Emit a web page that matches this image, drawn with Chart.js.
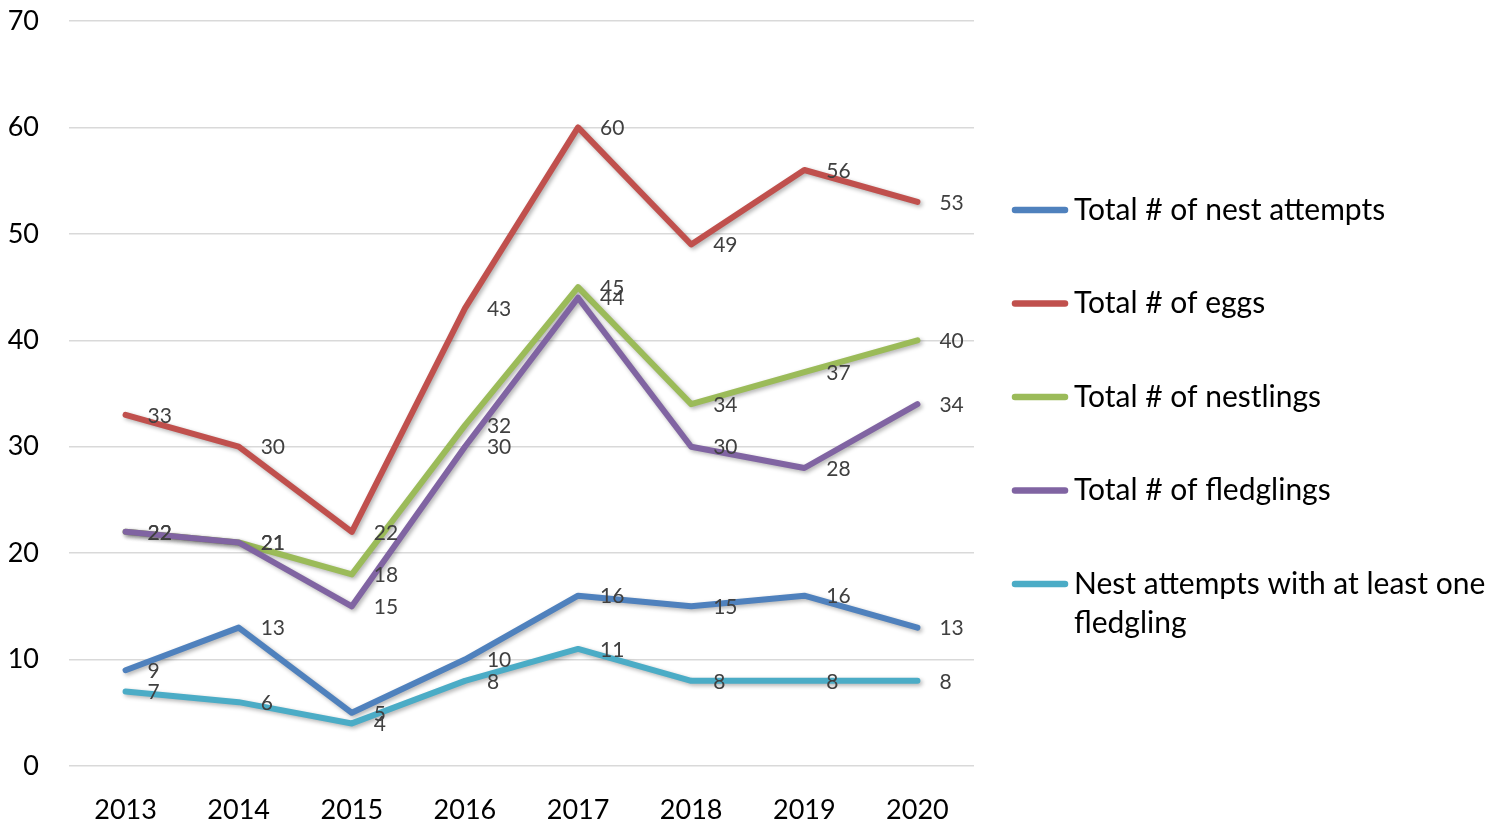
<!DOCTYPE html>
<html>
<head>
<meta charset="utf-8">
<script src="https://cdn.jsdelivr.net/npm/chart.js@4/dist/chart.umd.min.js"></script>
<style>
  html, body { margin: 0; padding: 0; background: #ffffff; }
  #contenedor { width: 1503px; height: 825px; }
</style>
</head>
<body>
<div id="contenedor"><canvas id="grafica" width="1503" height="825"></canvas></div>
<script>
// datos
const anios = ['2013', '2014', '2015', '2016', '2017', '2018', '2019', '2020'];
const intentos = [9, 13, 5, 10, 16, 15, 16, 13];
const huevos = [33, 30, 22, 43, 60, 49, 56, 53];
const polluelos = [22, 21, 18, 32, 45, 34, 37, 40];
const volantones = [22, 21, 15, 30, 44, 30, 28, 34];
const intentosExito = [7, 6, 4, 8, 11, 8, 8, 8];
const ticksY = [0, 10, 20, 30, 40, 50, 60, 70];

const leyendas = [
    'Total # of nest attempts',
    'Total # of eggs',
    'Total # of nestlings',
    'Total # of fledglings',
    'Nest attempts with at least one fledgling'
];
const colores = ['#4F81BD', '#C0504D', '#9BBB59', '#8064A2', '#4BACC6'];
const series = [intentos, huevos, polluelos, volantones, intentosExito];

const fuente = 'Lato, "Open Sans", sans-serif';

// sombra de las lineas + etiquetas de datos a la derecha del punto
const etiquetasDatos = {
    id: 'etiquetasDatos',
    beforeDatasetsDraw: function(chart)
    {
        const ctx = chart.ctx;
        ctx.save();
        ctx.shadowColor = 'rgba(0, 0, 0, 0.30)';
        ctx.shadowBlur = 4;
        ctx.shadowOffsetX = 2;
        ctx.shadowOffsetY = 2;
    },
    afterDatasetsDraw: function(chart)
    {
        const ctx = chart.ctx;
        ctx.restore();
        ctx.save();
        ctx.font = '21px ' + fuente;
        ctx.fillStyle = '#404040';
        ctx.textAlign = 'left';
        ctx.textBaseline = 'middle';
        chart.data.datasets.forEach(function(ds, i) {
            const meta = chart.getDatasetMeta(i);
            meta.data.forEach(function(punto, j) {
                ctx.fillText(String(ds.data[j]), punto.x + 22, punto.y + 1);
            });
        });
        ctx.restore();
    }
};

// leyenda a la derecha, con salto de linea para el texto largo
const leyendaDerecha = {
    id: 'leyendaDerecha',
    afterDraw: function(chart)
    {
        const ctx = chart.ctx;
        const x0 = chart.chartArea.right + 38;
        const anchoTexto = 1503 - (x0 + 63) - 6;
        let y = 210;
        ctx.save();
        ctx.font = '30px ' + fuente;
        ctx.textAlign = 'left';
        ctx.textBaseline = 'middle';
        chart.data.datasets.forEach(function(ds) {
            ctx.strokeStyle = ds.borderColor;
            ctx.lineWidth = 6.5;
            ctx.lineCap = 'round';
            ctx.beginPath();
            ctx.moveTo(x0 + 3, y);
            ctx.lineTo(x0 + 53, y);
            ctx.stroke();

            // partir el texto en renglones
            const palabras = ds.label.split(' ');
            const renglones = [];
            let actual = '';
            for (const p of palabras) {
                const prueba = actual ? actual + ' ' + p : p;
                if (ctx.measureText(prueba).width > anchoTexto && actual) {
                    renglones.push(actual);
                    actual = p;
                } else {
                    actual = prueba;
                }
            }
            renglones.push(actual);

            ctx.fillStyle = '#000000';
            renglones.forEach(function(r, k) {
                ctx.fillText(r, x0 + 62, y + k * 39);
            });
            y += 93.5;
        });
        ctx.restore();
    }
};

const muestraGrafica = function()
{
    const ctx = document.getElementById('grafica').getContext('2d');
    const datasets = series.map(function(datos, i) {
        return {
            label: leyendas[i],
            data: datos,
            borderColor: colores[i],
            backgroundColor: colores[i],
            borderWidth: 6,
            borderCapStyle: 'round',
            borderJoinStyle: 'round',
            pointRadius: 0,
            pointHoverRadius: 0,
            tension: 0,
            fill: false,
            order: series.length - i
        };
    });

    new Chart(ctx, {
        type: 'line',
        data: { labels: anios, datasets: datasets },
        options: {
            responsive: false,
            animation: false,
            devicePixelRatio: 1,
            layout: { padding: { top: 21, right: 529, bottom: 0, left: 0 } },
            plugins: {
                legend: { display: false },
                tooltip: { enabled: false },
                title: { display: false }
            },
            scales: {
                x: {
                    offset: true,
                    grid: { display: false, drawTicks: false },
                    border: { display: false },
                    ticks: { color: '#000000', padding: 28, font: { family: fuente, size: 27 } },
                    afterFit: function(escala) { escala.height = 59; }
                },
                y: {
                    min: 0,
                    max: 70,
                    afterBuildTicks: function(escala) { escala.ticks = ticksY.map(function(v) { return { value: v }; }); },
                    grid: { color: '#D9D9D9', lineWidth: 1.5, drawTicks: false },
                    border: { display: false },
                    ticks: { color: '#000000', padding: 30, font: { family: fuente, size: 27 } },
                    afterFit: function(escala)
                    {
                        // el padding de los ticks no debe empujar el area hacia abajo
                        escala.width = 69;
                        escala.paddingTop = 10;
                        escala.paddingBottom = 10;
                    }
                }
            }
        },
        plugins: [etiquetasDatos, leyendaDerecha]
    });
};

muestraGrafica();
</script>
</body>
</html>
